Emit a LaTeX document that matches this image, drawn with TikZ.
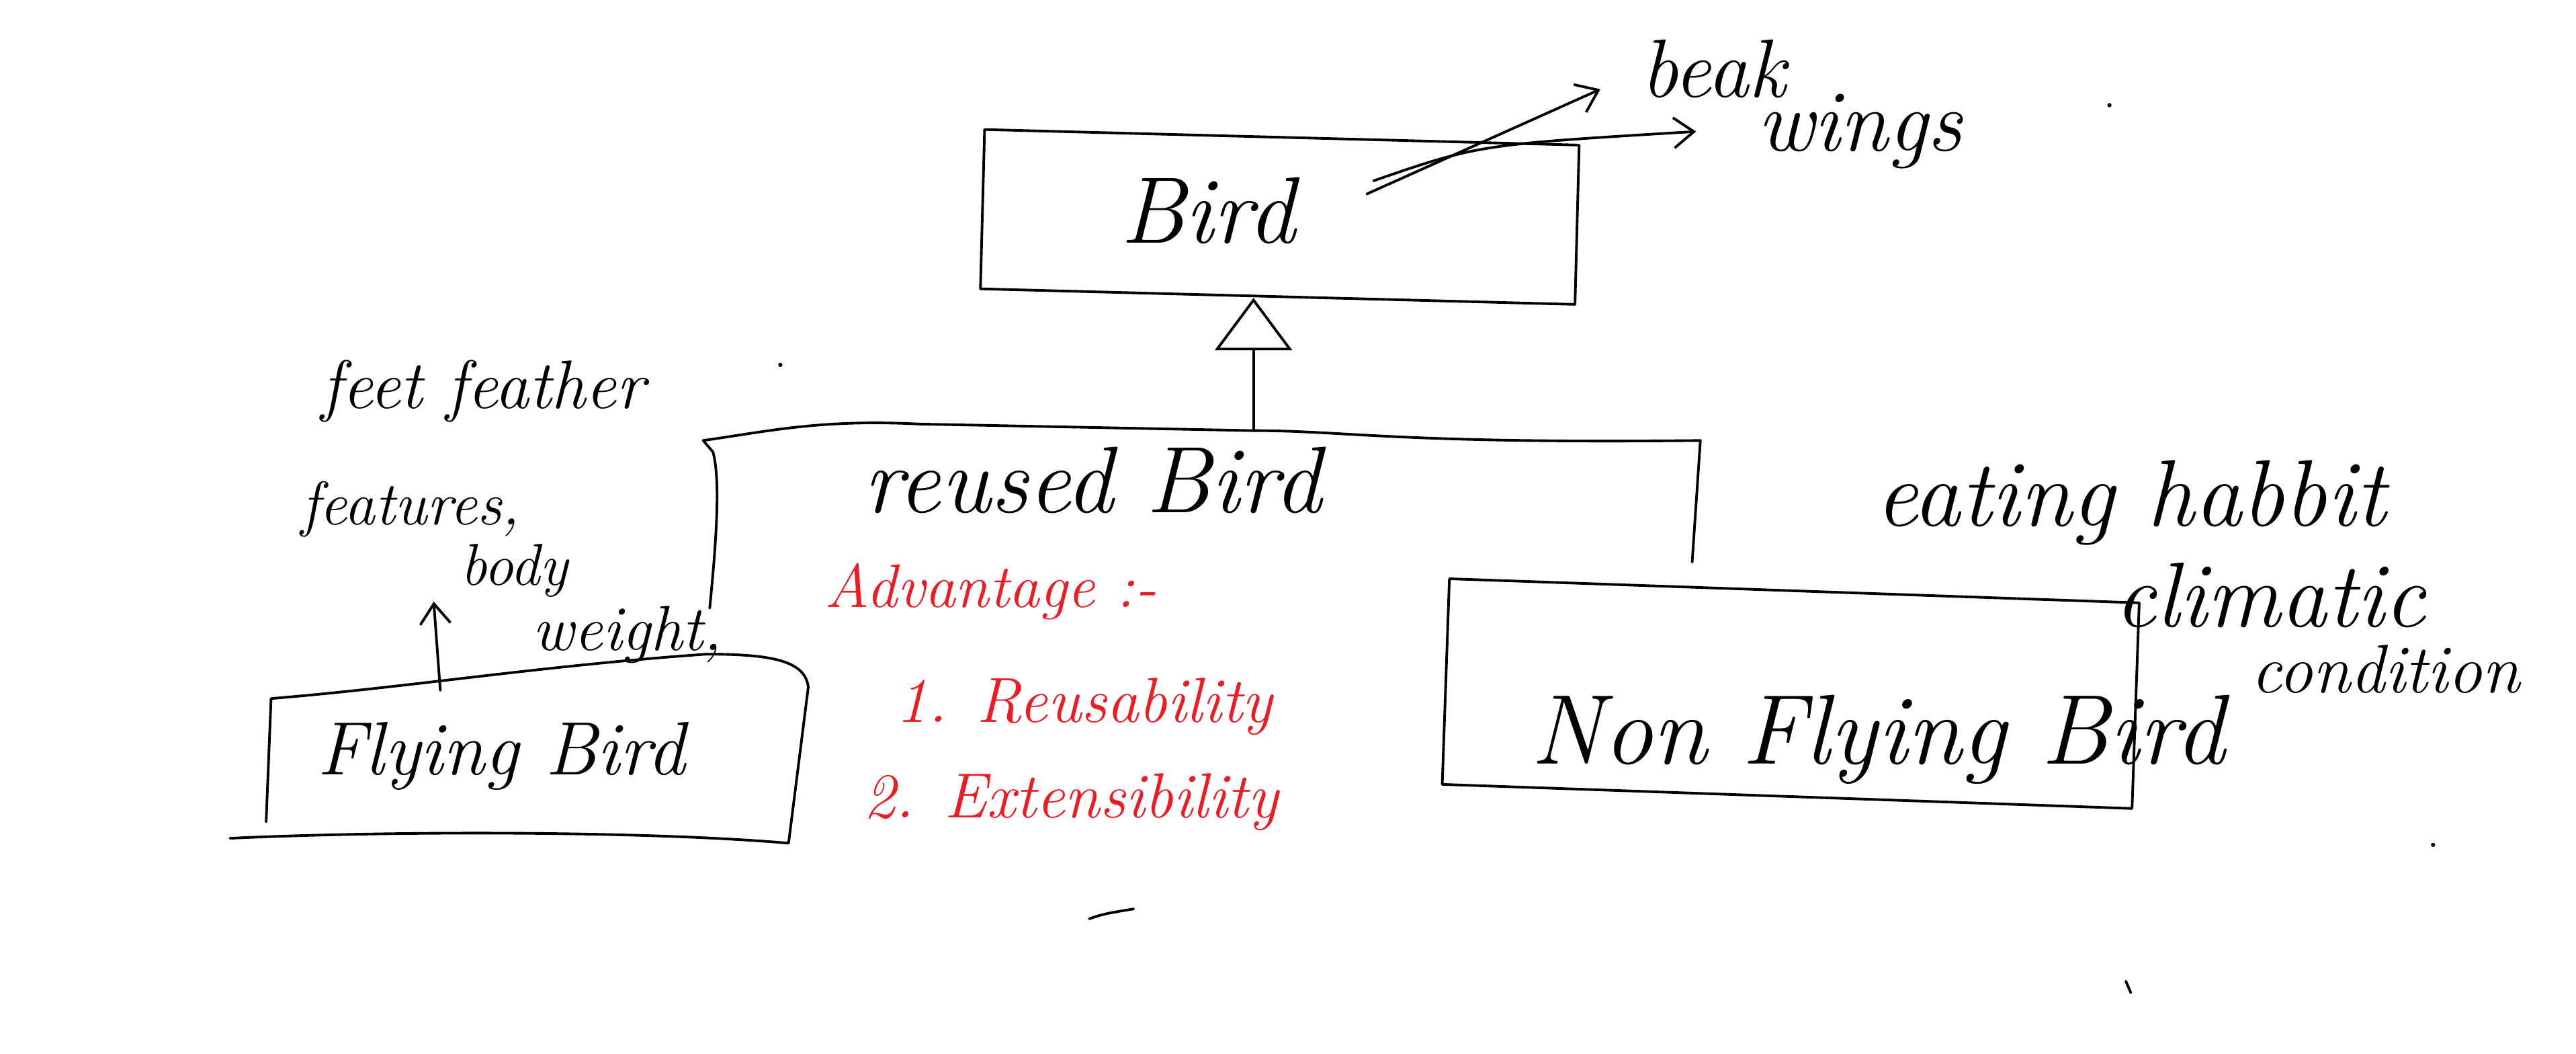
\documentclass[tikz,border=0pt]{standalone}
\usetikzlibrary{arrows.meta}
\definecolor{redpen}{RGB}{237,28,36}
\begin{document}
\begin{tikzpicture}[x=0.02445cm,y=-0.02445cm,
  ink/.style={line width=1.1pt, line cap=round, line join=round},
  box/.style={ink, draw, rectangle, inner sep=0pt},
  hw/.style={font=\itshape\fontsize{#1}{#1}\selectfont, inner sep=0pt},
  redtxt/.style={text=redpen},
  barb/.style={-{Straight Barb[length=0.3cm,width=0.45cm]}},
  gen/.style={-{Triangle[open,length=0.78cm,width=1.15cm]}}]
\useasboundingbox (0,0) rectangle (1568,641);

% Bird box
\node[box, rotate=-1.5, minimum width=8.85cm, minimum height=2.37cm] (bird) at (779,132) {};
\node[hw=40] (birdtxt) at (735,128) {Bird};
\node[hw=35] (beak) at (1043,42) {beak};
\node[hw=37] (wings) at (1132,80) {wings};
\coordinate (s1) at (832,118);
\coordinate (s2) at (836,110);
\draw[ink,barb] (s1) -- ([xshift=-0.6cm,yshift=-0.3cm]beak.west);
\draw[ink,barb] (s2) .. controls (900,88) .. ([xshift=-0.9cm]wings.west);

% reused bracket
\coordinate (junc) at (763,262);
\draw[ink] (432,370) .. controls (437,320) and (438,290) .. (434,275) -- (428,268)
  .. controls (470,262) and (500,255) .. (560,258) -- (junc)
  .. controls (820,262) and (850,270) .. (1035,268) -- (1030,342);
\draw[ink,gen] (junc) -- (junc |- bird.south);
\node[hw=40] (reused) at (665,292) {reused Bird};

% left annotations
\node[hw=29] (feet) at (294,238) {feet feather};
\node[hw=26] (features) at (250,310) {features,};
\node[hw=25] (body) at (313,347) {body};
\node[hw=27] (weight) at (382,386) {weight,};

% Flying Bird box
\draw[ink] (140,510) .. controls (250,505) and (400,506) .. (480,513)
  -- (492,418) .. controls (490,402) and (470,398) .. (430,398)
  .. controls (330,405) and (250,418) .. (165,425) -- (162,500);
\node[hw=32] (fly) at (305,460) {Flying Bird};
\coordinate (flytop) at (268,420);
\draw[ink,barb] (flytop) -- (264,366);

% red advantages
\node[hw=26,redtxt] (adv) at (603,360) {Advantage :-};
\node[hw=27,redtxt] (adv1) at (660,430) {1. Reusability};
\node[hw=27,redtxt] (adv2) at (652,488) {2. Extensibility};

% Non Flying Bird box
\node[box, rotate=-2, minimum width=10.27cm, minimum height=3.06cm] (nonfly) at (1090,422) {};
\node[hw=42] (nonflytxt) at (1143,450) {Non Flying Bird};
\node[hw=40] (eating) at (1297,306) {eating habbit};
\node[hw=39] (climatic) at (1382,362) {climatic};
\node[hw=29] (condition) at (1452,407) {condition};

% stray marks
\fill (475,222) circle (1.3);
\fill (1284,64) circle (1.3);
\fill (1481,514) circle (1.3);
\draw[ink] (1294,597) -- (1297,604);
\draw[ink] (663,559) .. controls (672,556) .. (690,553);
\end{tikzpicture}
\end{document}
